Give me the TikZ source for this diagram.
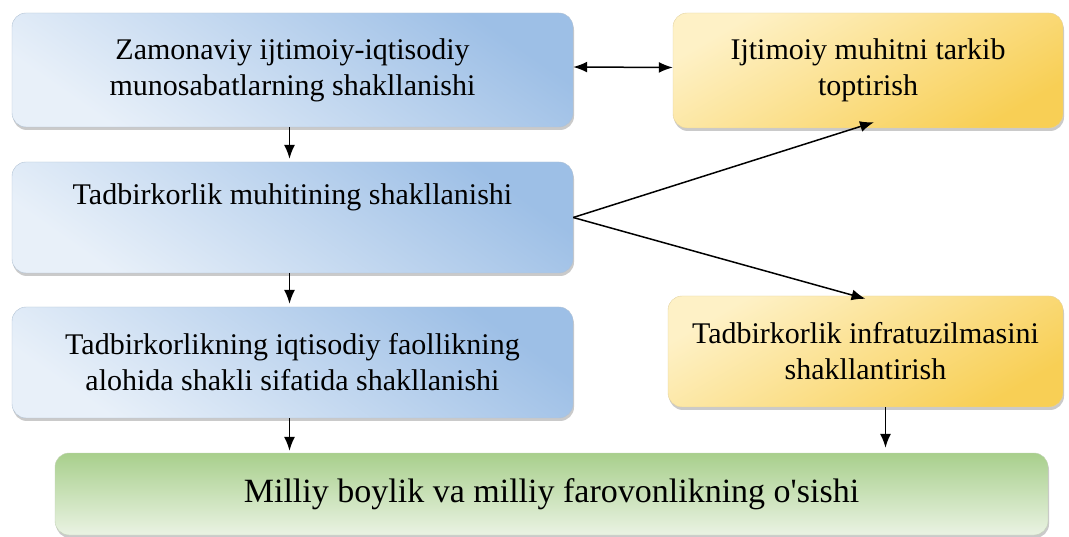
\documentclass[tikz,border=0pt]{standalone}
\usepackage{fontspec}
\setmainfont{Liberation Serif}
\usetikzlibrary{positioning, arrows.meta, shadows}

\definecolor{bluedark}{HTML}{9DBFE6}
\definecolor{bluelight}{HTML}{E8F0F9}
\definecolor{yelldark}{HTML}{F8CF55}
\definecolor{yelllight}{HTML}{FEF1C6}
\definecolor{greendark}{HTML}{A8CF8C}
\definecolor{greenlight}{HTML}{EAF3E3}

\begin{document}
\begin{tikzpicture}[x=1pt, y=1pt,
  box/.style={rounded corners=14pt, align=center, font=\fontsize{30}{36}\selectfont,
    drop shadow={shadow xshift=1pt, shadow yshift=-3pt, opacity=0.35, fill=black!60}},
  bluebox/.style={box, draw=bluedark!80!black!60, top color=bluedark, bottom color=bluelight, shading angle=-35},
  yellbox/.style={box, draw=yelldark!80!black!50, top color=yelllight, bottom color=yelldark, shading angle=30},
  greenbox/.style={box, draw=greendark!80!black!50, top color=greendark, bottom color=greenlight,
    font=\fontsize{34}{40}\selectfont},
  arr/.style={line width=1.5pt, -{Latex[length=14pt, width=11pt]}}]
\useasboundingbox (0,0) rectangle (1069,-537);

% Left column
\node[bluebox, minimum width=561pt, minimum height=114pt] (zamon) at (292.5,-70)
  {Zamonaviy ijtimoiy-iqtisodiy\\munosabatlarning shakllanishi};
\node[bluebox, minimum width=561pt, minimum height=111pt, text depth=46pt] (muhit) at (292.5,-217.5)
  {Tadbirkorlik muhitining shakllanishi};
\node[bluebox, minimum width=561pt, minimum height=111pt] (faollik) at (292.5,-362.5)
  {Tadbirkorlikning iqtisodiy faollikning\\alohida shakli sifatida shakllanishi};

% Right column
\node[yellbox, minimum width=390pt, minimum height=115pt] (ijtimoiy) at (868,-70.5)
  {Ijtimoiy muhitni tarkib\\toptirish};
\node[yellbox, minimum width=395pt, minimum height=111pt] (infra) at (865.5,-351.5)
  {Tadbirkorlik infratuzilmasini\\shakllantirish};

% Result
\node[greenbox, minimum width=993pt, minimum height=82pt] (boylik) at (551.5,-494)
  {Milliy boylik va milliy farovonlikning o\textquotesingle sishi};

% Arrows
\draw[arr, shorten >=3pt] ([xshift=-3pt]zamon.south) -- ([xshift=-3pt]muhit.north);
\draw[arr, shorten >=3pt] ([xshift=-3pt]muhit.south) -- ([xshift=-3pt]faollik.north);
\draw[arr, shorten >=2pt] ([xshift=-3pt]faollik.south) -- ([xshift=-3pt]faollik.south |- boylik.north);
\draw[arr, shorten >=5pt] ([xshift=20pt]infra.south) -- ([xshift=20pt]infra.south |- boylik.north);
\draw[arr, {Latex[length=14pt, width=11pt]}-{Latex[length=14pt, width=11pt]}] ([yshift=3pt]zamon.east) -- ([yshift=3pt]ijtimoiy.west);
\draw[arr] (muhit.east) -- ([xshift=6pt, yshift=6pt]ijtimoiy.south);
\draw[arr] (muhit.east) -- ([yshift=-3pt]infra.north);
\end{tikzpicture}
\end{document}
